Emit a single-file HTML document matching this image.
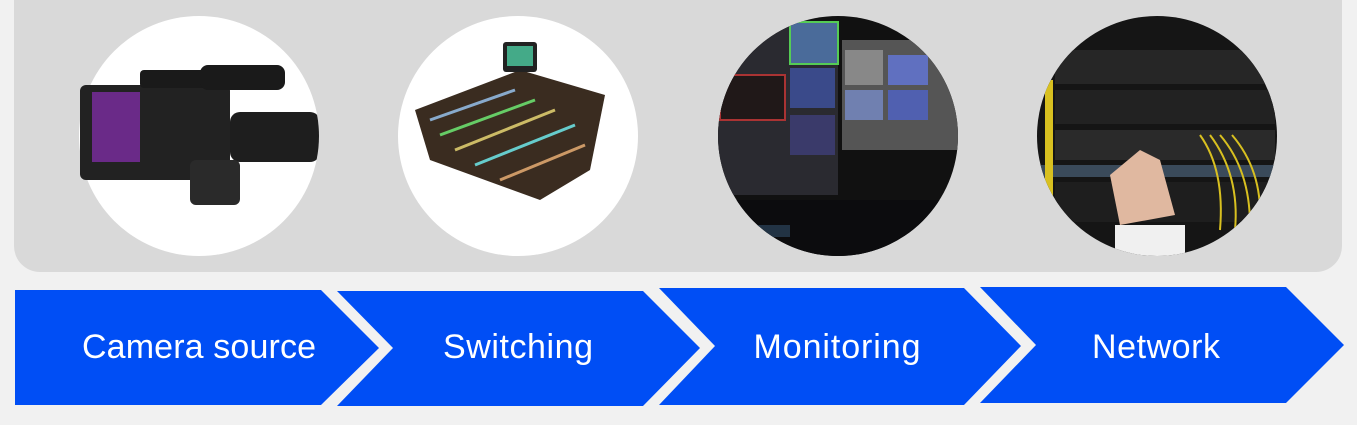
<!DOCTYPE html>
<html><head><style>
html,body{margin:0;padding:0;background:#f1f1f1;width:1357px;height:425px;overflow:hidden}
svg{display:block}
text{font-family:"Liberation Sans",sans-serif;fill:#fff;font-size:34px}
</style></head><body>
<svg width="1357" height="425" viewBox="0 0 1357 425">
<defs>
<clipPath id="c1"><circle cx="199" cy="136" r="120"/></clipPath>
<clipPath id="c3"><circle cx="838" cy="136" r="120"/></clipPath>
<clipPath id="c4"><circle cx="1157" cy="136" r="120"/></clipPath>
</defs>
<rect x="14" y="-30" width="1328" height="302" rx="26" fill="#d9d9d9"/>
<!-- circle 1 camera -->
<circle cx="199" cy="136" r="120" fill="#fff"/>
<g>
<rect x="80" y="85" width="150" height="95" rx="6" fill="#222"/>
<rect x="92" y="92" width="48" height="70" fill="#6a2a88"/>
<rect x="140" y="70" width="70" height="18" rx="4" fill="#1a1a1a"/>
<rect x="200" y="65" width="85" height="25" rx="8" fill="#1a1a1a"/>
<g clip-path="url(#c1)"><rect x="230" y="112" width="90" height="50" rx="10" fill="#1e1e1e"/></g>
<rect x="190" y="160" width="50" height="45" rx="6" fill="#2a2a2a"/>
</g>
<!-- circle 2 switcher -->
<circle cx="518" cy="136" r="120" fill="#fff"/>
<polygon points="415,110 520,70 605,95 590,170 540,200 430,160" fill="#3a2c20"/>
<g stroke-width="3">
<line x1="430" y1="120" x2="515" y2="90" stroke="#8ac"/>
<line x1="440" y1="135" x2="535" y2="100" stroke="#6c6"/>
<line x1="455" y1="150" x2="555" y2="110" stroke="#cb6"/>
<line x1="475" y1="165" x2="575" y2="125" stroke="#6cc"/>
<line x1="500" y1="180" x2="585" y2="145" stroke="#c96"/>
</g>
<rect x="503" y="42" width="34" height="30" rx="3" fill="#222"/>
<rect x="507" y="46" width="26" height="20" fill="#4a8"/>
<!-- circle 3 monitoring -->
<g clip-path="url(#c3)">
<rect x="700" y="0" width="280" height="280" fill="#111"/>
<rect x="718" y="25" width="120" height="170" fill="#2a2a30"/>
<rect x="790" y="22" width="48" height="42" fill="#4a6b9a" stroke="#5c5" stroke-width="2"/>
<rect x="720" y="75" width="65" height="45" fill="#201818" stroke="#a33" stroke-width="2"/>
<rect x="790" y="68" width="45" height="40" fill="#3a4a8a"/>
<rect x="790" y="115" width="45" height="40" fill="#3a3a6a"/>
<rect x="842" y="40" width="120" height="110" fill="#555"/>
<rect x="845" y="50" width="38" height="35" fill="#888"/>
<rect x="888" y="55" width="40" height="30" fill="#6070c0"/>
<rect x="845" y="90" width="38" height="30" fill="#7080b0"/>
<rect x="888" y="90" width="40" height="30" fill="#5060b0"/>
<rect x="720" y="200" width="240" height="60" fill="#0c0c0e"/>
<rect x="740" y="225" width="50" height="12" fill="#234"/>
</g>
<!-- circle 4 network -->
<g clip-path="url(#c4)">
<rect x="1030" y="0" width="260" height="280" fill="#151515"/>
<rect x="1055" y="50" width="220" height="34" fill="#262626"/>
<rect x="1055" y="90" width="220" height="34" fill="#222"/>
<rect x="1055" y="130" width="220" height="30" fill="#2a2a2a"/>
<rect x="1040" y="165" width="240" height="12" fill="#3a4a5a"/>
<rect x="1055" y="182" width="220" height="40" fill="#1e1e1e"/>
<rect x="1045" y="80" width="8" height="150" fill="#d8c020"/>
<g stroke="#d8c020" stroke-width="2" fill="none">
<path d="M1200 135 Q1225 170 1220 230"/><path d="M1210 135 Q1240 175 1235 230"/>
<path d="M1220 135 Q1250 170 1250 225"/><path d="M1232 135 Q1262 170 1260 220"/>
</g>
<path d="M1110 175 L1140 150 L1160 160 L1175 215 L1120 225 Z" fill="#e0b8a0"/>
<rect x="1115" y="225" width="70" height="40" fill="#f0f0f0"/>
</g>
<!-- chevrons -->
<g fill="#004ef5">
<polygon points="15,290 321,290 379,348 321,405 15,405"/>
<polygon points="337,291 643,291 700,348 643,406 337,406 393,348"/>
<polygon points="659,288 964,288 1021,346 964,405 659,405 715,346"/>
<polygon points="980,287 1286,287 1344,345 1286,403 980,403 1036,345"/>
</g>
<text x="199" y="358" text-anchor="middle" textLength="234">Camera source</text>
<text x="518" y="358" text-anchor="middle" textLength="150">Switching</text>
<text x="837" y="358" text-anchor="middle" textLength="167">Monitoring</text>
<text x="1156" y="358" text-anchor="middle" textLength="128">Network</text>
</svg>
</body></html>
